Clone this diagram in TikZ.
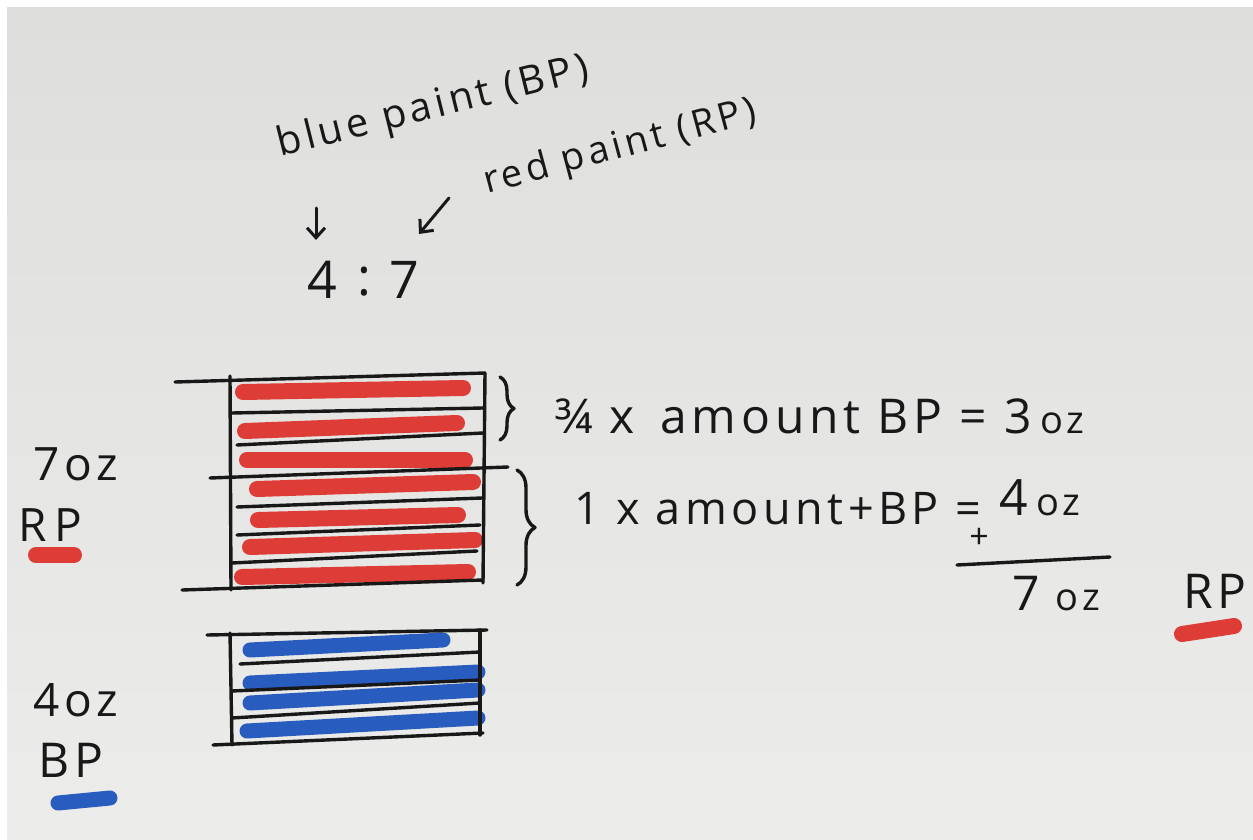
\documentclass[tikz,border=0pt]{standalone}
\usepackage{fontspec}
\setmainfont{Open Sans}
\newfontfamily\handf[LetterSpace=10]{Open Sans}
\usetikzlibrary{arrows.meta,decorations.pathreplacing}
\definecolor{inkc}{RGB}{24,24,24}
\definecolor{redm}{RGB}{222,60,54}
\definecolor{bluem}{RGB}{40,92,190}
\definecolor{paperA}{RGB}{222,222,220}
\definecolor{paperC}{RGB}{236,236,234}
\tikzset{
  ink/.style={line width=3.4pt, draw=inkc, line cap=round, line join=round},
  redmark/.style={line width=16pt, draw=redm, line cap=round},
  bluemark/.style={line width=15pt, draw=bluem, line cap=round},
  hand/.style={text=inkc, inner sep=0pt, font=\handf\fontsize{#1}{#1}\selectfont},
  hand/.default=38,
  pointer/.style={ink, line width=3pt, -{Straight Barb[length=10pt,width=18pt,line width=3pt]}},
  bracesty/.style={ink, decorate, decoration={brace, amplitude=#1}},
}
\newcommand{\sm}[1]{{\fontsize{38}{38}\selectfont #1}}
\begin{document}
\begin{tikzpicture}[x=1pt,y=-1pt]
\useasboundingbox (0,0) rectangle (1253,840);
\fill[white] (0,0) rectangle (1253,840);
\shade[top color=paperA, bottom color=paperC] (7,8) rectangle (1253,840);

% top labels
\node[hand=40, rotate=14] (bp) at (433,108) {blue paint (BP)};
\node[hand=38, rotate=15] (rp) at (620,148) {red paint (RP)};
\node[hand=52] (n4) at (322,280) {4};
\node[hand=52] (col) at (364,282) {:};
\node[hand=52] (n7) at (404,280) {7};
\coordinate (a1) at (316,208);
\coordinate (a1e) at (316,240);
\coordinate (a2) at (449,198);
\coordinate (a2e) at (419,234);
\draw[pointer] (a1) -- (a1e);
\draw[pointer] (a2) -- (a2e);

% red marks
\draw[redmark] (243,392) -- (463,388);
\draw[redmark] (245,431) -- (457,423);
\draw[redmark] (247,460) -- (465,460);
\draw[redmark] (257,489) -- (473,482);
\draw[redmark] (258,520) -- (458,515);
\draw[redmark] (250,547) -- (475,540);
\draw[redmark] (242,577) -- (468,572);

% red box
\draw[ink] (175,382) -- (485,373);
\draw[ink] (232,413) -- (483,408);
\draw[ink] (237,445) -- (483,433);
\draw[ink] (210,478) -- (508,467);
\draw[ink] (237,507) -- (482,498);
\draw[ink] (237,535) -- (480,525);
\draw[ink] (232,563) -- (477,551);
\draw[ink] (182,590) -- (483,580);
\draw[ink] (230,376) -- (231,590);
\draw[ink] (485,373) -- (483,583);

% braces
\coordinate (b1t) at (500,377);
\coordinate (b1b) at (500,440);
\coordinate (b2t) at (517,470);
\coordinate (b2b) at (517,585);
\draw[bracesty=14pt] (b1t) -- (b1b);
\draw[bracesty=18pt] (b2t) -- (b2b);

% blue marks
\draw[bluemark] (250,650) -- (443,640);
\draw[bluemark] (250,683) -- (478,672);
\draw[bluemark] (250,703) -- (478,690);
\draw[bluemark] (247,731) -- (478,718);

% blue box
\draw[ink] (207,635) -- (487,630);
\draw[ink] (240,664) -- (480,652);
\draw[ink] (232,691) -- (480,680);
\draw[ink] (232,718) -- (480,703);
\draw[ink] (213,745) -- (483,733);
\draw[ink] (230,633) -- (232,745);
\draw[ink] (480,630) -- (480,735);

% equations
\node[hand=48, anchor=base west] (eq1) at (555,433) {¾ x\, amount BP = 3\,\sm{oz}};
\node[hand=45, anchor=base west] (eq2) at (574,524) {1 x amount+BP =};
\node[hand=34] (plus) at (979,538) {+};
\node[hand=50, anchor=base west] (four) at (999,515) {4\,\sm{oz}};
\coordinate (s1) at (957,565);
\coordinate (s2) at (1110,557);
\draw[ink] (s1) -- (s2);
\node[hand=48, anchor=base west] (seven) at (1012,610) {7\,\,\sm{oz}};
\node[hand=48, anchor=base west] (rpr) at (1183,608) {RP};
\draw[redmark] (1182,634) -- (1234,626);

% left labels
\node[hand=46, anchor=base west] (l7) at (33,480) {7oz};
\node[hand=46, anchor=base west] (lrp) at (18,541) {R\,P};
\draw[redmark] (36,555) -- (74,555);
\node[hand=46, anchor=base west] (l4) at (33,716) {4oz};
\node[hand=48, anchor=base west] (lbp) at (38,777) {BP};
\draw[bluemark] (58,803) -- (110,798);
\end{tikzpicture}
\end{document}
